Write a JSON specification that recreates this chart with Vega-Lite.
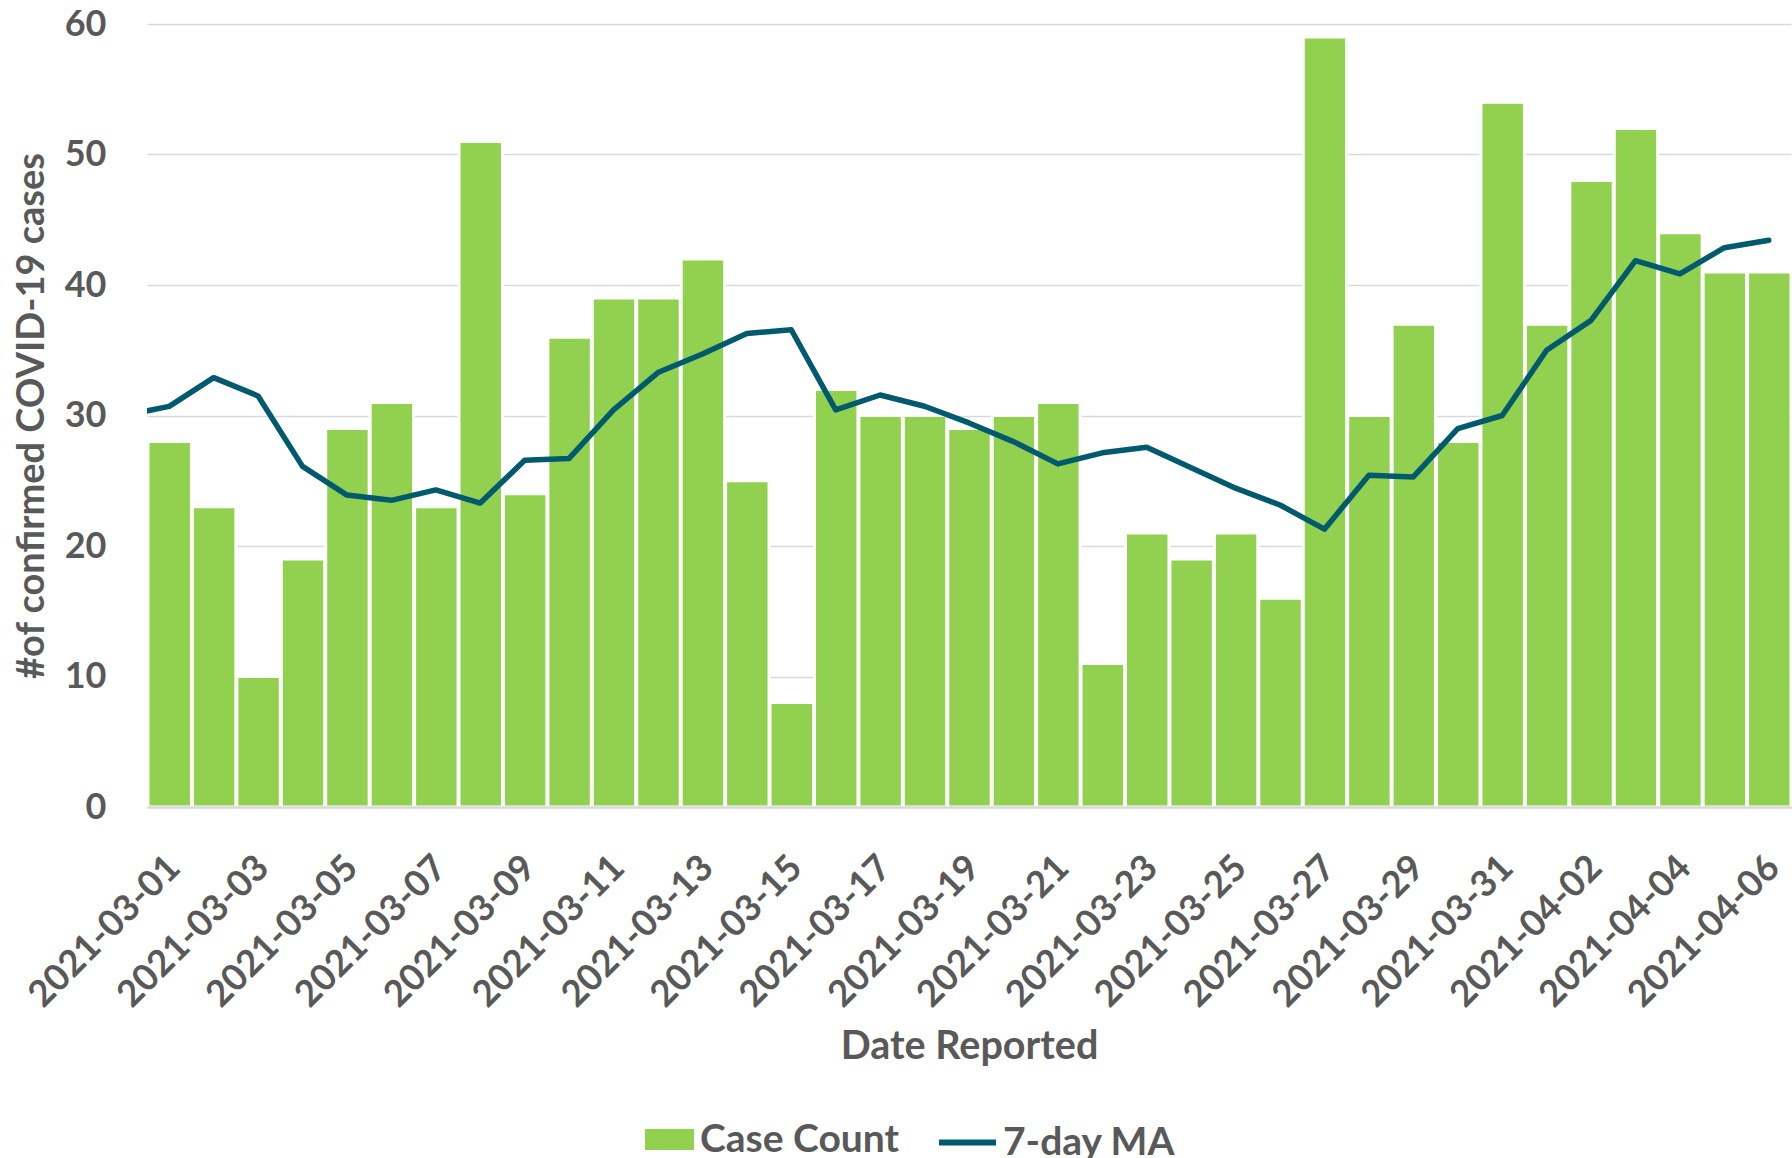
{
  "$schema": "https://vega.github.io/schema/vega-lite/v6.json",
  "autosize": {"type": "none"},
  "padding": {"left": 147, "top": 24, "right": 1, "bottom": 351},
  "width": 1644,
  "height": 783,
  "background": "white",
  "config": {
    "font": "Lato",
    "view": {"stroke": null}
  },
  "resolve": {"scale": {"fill": "independent", "stroke": "independent"}},
  "data": {
    "values": [
      {"date": "2021-02-28", "count": null, "ma": 30.0},
      {"date": "2021-03-01", "count": 28, "ma": 30.7},
      {"date": "2021-03-02", "count": 23, "ma": 32.9},
      {"date": "2021-03-03", "count": 10, "ma": 31.5},
      {"date": "2021-03-04", "count": 19, "ma": 26.1},
      {"date": "2021-03-05", "count": 29, "ma": 23.9},
      {"date": "2021-03-06", "count": 31, "ma": 23.5},
      {"date": "2021-03-07", "count": 23, "ma": 24.3},
      {"date": "2021-03-08", "count": 51, "ma": 23.29},
      {"date": "2021-03-09", "count": 24, "ma": 26.57},
      {"date": "2021-03-10", "count": 36, "ma": 26.71},
      {"date": "2021-03-11", "count": 39, "ma": 30.43},
      {"date": "2021-03-12", "count": 39, "ma": 33.29},
      {"date": "2021-03-13", "count": 42, "ma": 34.71},
      {"date": "2021-03-14", "count": 25, "ma": 36.29},
      {"date": "2021-03-15", "count": 8, "ma": 36.57},
      {"date": "2021-03-16", "count": 32, "ma": 30.43},
      {"date": "2021-03-17", "count": 30, "ma": 31.57},
      {"date": "2021-03-18", "count": 30, "ma": 30.71},
      {"date": "2021-03-19", "count": 29, "ma": 29.43},
      {"date": "2021-03-20", "count": 30, "ma": 28.0},
      {"date": "2021-03-21", "count": 31, "ma": 26.29},
      {"date": "2021-03-22", "count": 11, "ma": 27.14},
      {"date": "2021-03-23", "count": 21, "ma": 27.57},
      {"date": "2021-03-24", "count": 19, "ma": 26.0},
      {"date": "2021-03-25", "count": 21, "ma": 24.43},
      {"date": "2021-03-26", "count": 16, "ma": 23.14},
      {"date": "2021-03-27", "count": 59, "ma": 21.29},
      {"date": "2021-03-28", "count": 30, "ma": 25.43},
      {"date": "2021-03-29", "count": 37, "ma": 25.29},
      {"date": "2021-03-30", "count": 28, "ma": 29.0},
      {"date": "2021-03-31", "count": 54, "ma": 30.0},
      {"date": "2021-04-01", "count": 37, "ma": 35.0},
      {"date": "2021-04-02", "count": 48, "ma": 37.29},
      {"date": "2021-04-03", "count": 52, "ma": 41.86},
      {"date": "2021-04-04", "count": 44, "ma": 40.86},
      {"date": "2021-04-05", "count": 41, "ma": 42.86},
      {"date": "2021-04-06", "count": 41, "ma": 43.43}
    ]
  },
  "encoding": {
    "x": {
      "field": "date",
      "type": "temporal",
      "timeUnit": "yearmonthdate",
      "scale": {
        "domain": [{"year": 2021, "month": 3, "date": 1}, {"year": 2021, "month": 4, "date": 7}],
        "nice": false
      },
      "axis": {
        "title": "Date Reported",
        "titleFont": "Lato",
        "titleFontSize": 39.5,
        "titleFontWeight": "bold",
        "titleColor": "#595959",
        "titlePadding": 20,
        "values": [
          {"year": 2021, "month": 3, "date": 1, "hours": 12},
          {"year": 2021, "month": 3, "date": 3, "hours": 12},
          {"year": 2021, "month": 3, "date": 5, "hours": 12},
          {"year": 2021, "month": 3, "date": 7, "hours": 12},
          {"year": 2021, "month": 3, "date": 9, "hours": 12},
          {"year": 2021, "month": 3, "date": 11, "hours": 12},
          {"year": 2021, "month": 3, "date": 13, "hours": 12},
          {"year": 2021, "month": 3, "date": 15, "hours": 12},
          {"year": 2021, "month": 3, "date": 17, "hours": 12},
          {"year": 2021, "month": 3, "date": 19, "hours": 12},
          {"year": 2021, "month": 3, "date": 21, "hours": 12},
          {"year": 2021, "month": 3, "date": 23, "hours": 12},
          {"year": 2021, "month": 3, "date": 25, "hours": 12},
          {"year": 2021, "month": 3, "date": 27, "hours": 12},
          {"year": 2021, "month": 3, "date": 29, "hours": 12},
          {"year": 2021, "month": 3, "date": 31, "hours": 12},
          {"year": 2021, "month": 4, "date": 2, "hours": 12},
          {"year": 2021, "month": 4, "date": 4, "hours": 12},
          {"year": 2021, "month": 4, "date": 6, "hours": 12}
        ],
        "format": "%Y-%m-%d",
        "labelAngle": -45,
        "labelFont": "Lato",
        "labelFontSize": 36.5,
        "labelFontWeight": "bold",
        "labelColor": "#595959",
        "labelPadding": 42,
        "labelOffset": -8,
        "labelLimit": 0,
        "labelOverlap": false,
        "labelFlush": false,
        "ticks": false,
        "grid": false,
        "domain": true,
        "domainColor": "#D9D9D9",
        "domainWidth": 2.5,
        "zindex": 1
      }
    }
  },
  "layer": [
    {
      "mark": {"type": "bar", "stroke": "white", "strokeWidth": 3, "clip": true},
      "encoding": {
        "y": {
          "field": "count",
          "type": "quantitative",
          "scale": {"domain": [0, 60], "nice": false},
          "axis": {
            "title": "#of confirmed COVID-19 cases",
            "titleFont": "Lato",
            "titleFontSize": 38,
            "titleFontWeight": "bold",
            "titleColor": "#595959",
            "titlePadding": 13,
            "values": [0, 10, 20, 30, 40, 50, 60],
            "labelFont": "Lato",
            "labelFontSize": 36,
            "labelFontWeight": "bold",
            "labelColor": "#595959",
            "labelPadding": 41,
            "ticks": false,
            "domain": false,
            "grid": true,
            "gridColor": "#D9D9D9",
            "gridWidth": 1.5,
            "zindex": 0
          }
        },
        "fill": {
          "datum": "Case Count",
          "type": "nominal",
          "scale": {"domain": ["Case Count"], "range": ["#92D050"]},
          "legend": {
            "title": null,
            "orient": "none",
            "direction": "horizontal",
            "legendX": 498,
            "legendY": 1091,
            "labelFont": "Lato",
            "labelFontSize": 39,
            "labelFontWeight": "bold",
            "labelColor": "#595959",
            "labelLimit": 0,
            "labelOffset": 6,
            "symbolSize": 2401,
            "symbolType": "M-1,-0.43H1V0.43H-1Z",
            "symbolStrokeWidth": 0,
            "symbolStrokeColor": "transparent"
          }
        }
      }
    },
    {
      "mark": {"type": "line", "strokeWidth": 5.5, "strokeCap": "round", "strokeJoin": "round", "clip": true},
      "encoding": {
        "x": {"field": "date", "type": "temporal", "timeUnit": "yearmonthdate", "bandPosition": 0.5},
        "y": {"field": "ma", "type": "quantitative"},
        "stroke": {
          "datum": "7-day MA",
          "type": "nominal",
          "scale": {"domain": ["7-day MA"], "range": ["#005A6E"]},
          "legend": {
            "title": null,
            "orient": "none",
            "direction": "horizontal",
            "legendX": 789,
            "legendY": 1087,
            "labelFont": "Lato",
            "labelFontSize": 39,
            "labelFontWeight": "bold",
            "labelColor": "#595959",
            "labelLimit": 0,
            "labelOffset": 4,
            "symbolSize": 3249,
            "symbolType": "stroke",
            "symbolStrokeWidth": 6
          }
        }
      }
    }
  ]
}
